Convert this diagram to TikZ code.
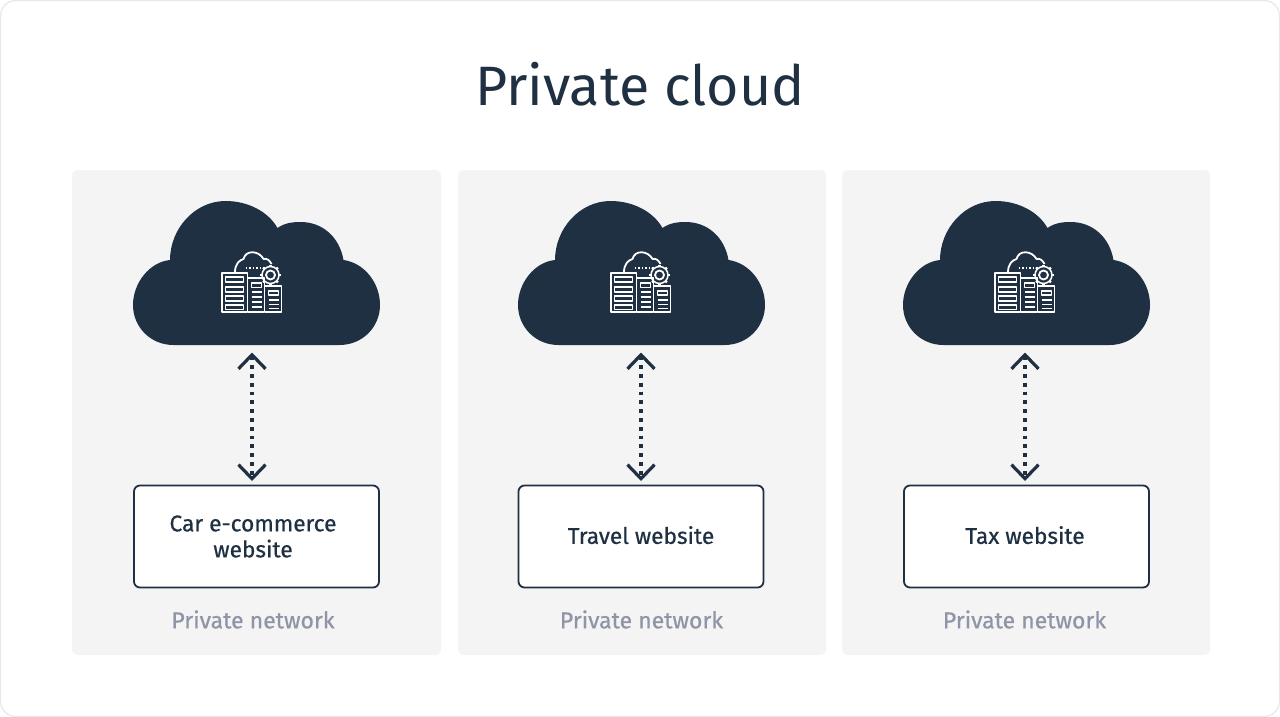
\documentclass[tikz,border=0pt]{standalone}
\usepackage{fontspec}
\setmainfont{Fira Sans}
\newfontfamily\medfont[FakeBold=0.6]{Fira Sans}
\usetikzlibrary{arrows.meta}
\definecolor{navy}{HTML}{1F3043}
\definecolor{panelgrey}{HTML}{F4F4F5}
\definecolor{labelgrey}{HTML}{8F94A6}
\definecolor{edgegrey}{HTML}{E6E8E9}
\tikzset{
  x=1pt,y=-1pt,
  panelbox/.style={fill=panelgrey,rounded corners=6pt,draw=none},
  sitebox/.style={draw=navy,fill=white,line width=1.8pt,rounded corners=6pt,minimum width=245pt,minimum height=102pt,inner sep=0pt,align=center,text=navy,font=\medfont\fontsize{22.7}{26}\selectfont},
  netlabel/.style={text=labelgrey,font=\medfont\fontsize{23}{26}\selectfont,inner sep=0pt},
  link/.style={draw=navy,line width=3.2pt,dash pattern=on 3.8pt off 5pt,{Straight Barb[length=14pt,width=27pt,line width=3.2pt]}-{Straight Barb[length=14pt,width=27pt,line width=3.2pt]}},
  iconline/.style={draw=white,line width=1.8pt,line join=round},
  pics/cloudshape/.style={code={
    \fill[navy] (-83,86) .. controls (-106,86) and (-123.5,68) .. (-123.5,46)
      .. controls (-123.5,24) and (-107,3) .. (-86.5,1)
      .. controls (-86.5,-30) and (-62,-58) .. (-31,-58)
      .. controls (-8,-58) and (12,-47) .. (21,-31)
      .. controls (28,-36) and (36,-37) .. (44,-37)
      .. controls (66,-37) and (83,-22) .. (87,1)
      .. controls (108,4) and (123.5,24) .. (123.5,46)
      .. controls (123.5,68) and (106,86) .. (83,86) -- cycle;
  }},
  pics/servericon/.style={code={
    \begin{scope}[iconline]
      \draw (-34.5,14) rectangle (-9,53);
      \draw (-9,19) -- (8,19) -- (8,53) -- (-9,53);
      \draw (8,27) -- (25,27) -- (25,53) -- (8,53);
      \draw[line width=1.5pt] (-31,18) rectangle (-13,23);
      \draw[line width=1.5pt] (-31,28) rectangle (-13,33);
      \draw[line width=1.5pt] (-31,37) rectangle (-13,42);
      \draw[line width=1.5pt] (-31,46) rectangle (-13,50.5);
      \draw[line width=1.5pt] (-5,24) rectangle (5,28.5);
      \draw[line width=1.5pt] (-5,33) -- (5,33) (-5,38) -- (5,38) (-5,43) -- (5,43) (-5,48) -- (5,48);
      \draw[line width=1.5pt] (12,32) rectangle (22,36);
      \draw[line width=1.5pt] (12,41) -- (22,41) (12,45.5) -- (22,45.5) (12,49.5) -- (22,49.5);
      \draw (-21.5,13) .. controls (-21.5,5) and (-17,1) .. (-13,0)
        .. controls (-11,-9) and (2,-9) .. (7,0)
        .. controls (10,-1) and (13,1) .. (15,5);
      \draw[line width=1.6pt,dash pattern=on 1.5pt off 2pt] (-11,9) -- (9,9);
      \draw (14,16) circle[radius=4.5];
      \draw[line width=1.5pt] (14,16) circle[radius=8.5];
      \foreach \a in {0,45,...,315}{
        \draw[line width=2.2pt] (14,16) ++(\a:8) -- ++(\a:2.5);
      }
    \end{scope}
  }}
}
\begin{document}
\begin{tikzpicture}
\useasboundingbox (0,0) rectangle (1280,717);
\fill[white] (0,0) rectangle (1280,717);
\draw[draw=edgegrey,line width=1.2pt,rounded corners=15pt] (0.6,0.6) rectangle (1279.4,716.4);
\node[text=navy,font=\fontsize{55.5}{66}\selectfont,inner sep=0pt] (title) at (640,84.5) {Private cloud};
\fill[panelbox] (72,170) rectangle (441,655);
\fill[panelbox] (458,170) rectangle (826,655);
\fill[panelbox] (842,170) rectangle (1210,655);
\pic at (256.5,259) {cloudshape};
\pic at (641.5,259) {cloudshape};
\pic at (1026.5,259) {cloudshape};
\pic at (256.5,259) {servericon};
\pic at (645.5,259) {servericon};
\pic at (1029.5,259) {servericon};
\coordinate (c1) at (252,352.5);
\coordinate (c2) at (641,352.5);
\coordinate (c3) at (1025,352.5);
\node[sitebox] (b1) at (256.5,536.5) {\raisebox{-4pt}{Car e-commerce\hspace*{7pt}}\\\raisebox{-4pt}{website\hspace*{7pt}}};
\node[sitebox] (b2) at (641,536.5) {\raisebox{3pt}{Travel website}};
\node[sitebox] (b3) at (1026.5,536.5) {\raisebox{3pt}{Tax website\hspace*{3pt}}};
\coordinate (e1) at (252,481);
\coordinate (e2) at (641,481);
\coordinate (e3) at (1025,481);
\draw[link] (c1) -- (e1);
\draw[link] (c2) -- (e2);
\draw[link] (c3) -- (e3);
\node[netlabel] (n1) at (253,619.5) {Private network};
\node[netlabel] (n2) at (641.5,619.5) {Private network};
\node[netlabel] (n3) at (1024.5,619.5) {Private network};
\end{tikzpicture}
\end{document}
